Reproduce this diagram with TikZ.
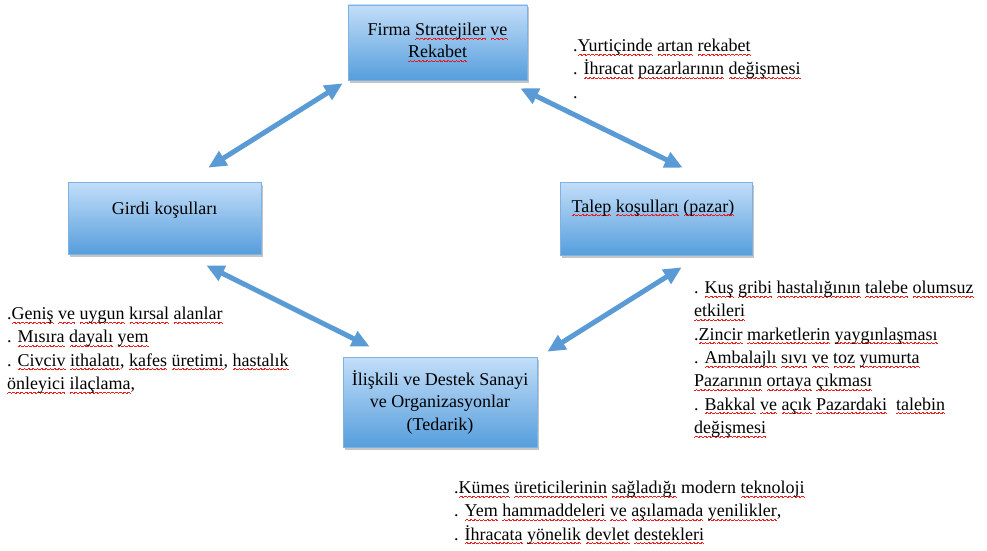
\documentclass[tikz,border=0pt]{standalone}
\usepackage{fontspec}
\setmainfont{Liberation Serif}
\usetikzlibrary{arrows.meta,shadows,calc}

\definecolor{boxtop}{RGB}{195,222,249}
\definecolor{boxbot}{RGB}{86,158,220}
\definecolor{boxline}{RGB}{125,178,226}
\definecolor{arrowblue}{RGB}{91,155,213}
\definecolor{wavered}{RGB}{232,30,30}

% red wavy spell-check underline, one word at a time, built from small rules
\newcommand\wavecell{\hbox{%
  \vrule height0.9pt depth0pt width0.67pt
  \vrule height1.4pt depth-0.5pt width0.67pt
  \vrule height1.9pt depth-1pt width0.67pt
  \vrule height1.9pt depth-1pt width0.67pt
  \vrule height1.4pt depth-0.5pt width0.67pt
  \vrule height0.9pt depth0pt width0.67pt}}
\newsavebox\sqbox
\newcommand\sq[1]{\sbox\sqbox{#1}%
  \rlap{\color{wavered}\lower4.2pt\hbox to\wd\sqbox{\xleaders\wavecell\hfil}}%
  \usebox\sqbox}

\tikzset{
  factor/.style={draw=boxline, line width=0.6pt, top color=boxtop, bottom color=boxbot,
    drop shadow={opacity=0.45, shadow xshift=2pt, shadow yshift=-2.5pt},
    inner sep=0pt, align=center, font=\fontsize{18}{22.5}\selectfont},
  factortext/.style={inner sep=0pt, font=\fontsize{18}{22.5}\selectfont},
  notes/.style={anchor=north west, inner sep=0pt, align=left, font=\fontsize{18}{23.3}\selectfont},
  link/.style={draw=arrowblue, line width=5pt,
    {Triangle[length=18pt,width=16pt]}-{Triangle[length=18pt,width=16pt]}},
}

\begin{document}
\begin{tikzpicture}[x=1pt,y=-1pt]
\fill[white] (0,0) rectangle (987,551);
\useasboundingbox (0,0) rectangle (987,551);

% the four factor boxes
\node[factor, minimum width=179pt, minimum height=75pt] (firma) at (437.5,42.5)
  {Firma \sq{Stratejiler} \sq{ve}\\\sq{Rekabet}};
\node[factor, minimum width=193pt, minimum height=72pt] (girdi) at (164.5,218) {};
\node[factortext] (girditext) at (164.5,210) {Girdi koşulları};
\node[factor, minimum width=192pt, minimum height=73pt] (talep) at (656,218.5) {};
\node[factortext] (taleptext) at (653,208) {\sq{Talep} \sq{koşulları} \sq{(pazar)}};
\node[factor, minimum width=194pt, minimum height=90pt] (tedarik) at (440,402)
  {İlişkili ve Destek Sanayi\\ve Organizasyonlar\\(Tedarik)};

% two-way links between the factors
\draw[link] ($(girdi.north east)+(-53,-14)$) -- ($(firma.south west)+(-5,3)$);
\draw[link] ($(firma.south east)+(-7,8)$) -- ($(talep.north west)+(123,-14)$);
\draw[link] ($(girdi.south east)+(-55,11)$) -- ($(tedarik.north west)+(27,-10)$);
\draw[link] ($(talep.south west)+(122,12)$) -- ($(tedarik.north east)+(10,-5)$);

% notes beside each factor
\node[notes] (rekabetnot) at (573,35)
  {\strut.\sq{Yurtiçinde} \sq{artan} \sq{rekabet}\\
   . \sq{İhracat} \sq{pazarlarının} \sq{değişmesi}\\
   .};
\node[notes] (girdinot) at (7,303)
  {\strut.\sq{Geniş} \sq{ve} \sq{uygun} \sq{kırsal} \sq{alanlar}\\
   . \sq{Mısıra} \sq{dayalı} \sq{yem}\\
   . \sq{Civciv} \sq{ithalatı}, \sq{kafes} \sq{üretimi}, \sq{hastalık}\\
   \sq{önleyici} \sq{ilaçlama},};
\node[notes] (talepnot) at (694,277)
  {\strut. \sq{Kuş} \sq{gribi} \sq{hastalığının} \sq{talebe} \sq{olumsuz}\\
   \sq{etkileri}\\
   .\sq{Zincir} \sq{marketlerin} \sq{yaygınlaşması}\\
   . \sq{Ambalajlı} \sq{sıvı} \sq{ve} \sq{toz} \sq{yumurta}\\
   \sq{Pazarının} \sq{ortaya} \sq{çıkması}\\
   . \sq{Bakkal} \sq{ve} \sq{açık} \sq{Pazardaki}\ \ \sq{talebin}\\
   \sq{değişmesi}};
\node[notes] (tedariknot) at (454,477)
  {\strut.\sq{Kümes} \sq{üreticilerinin} \sq{sağladığı} modern \sq{teknoloji}\\
   . \sq{Yem} \sq{hammaddeleri} \sq{ve} \sq{aşılamada} \sq{yenilikler},\\
   . \sq{İhracata} \sq{yönelik} \sq{devlet} \sq{destekleri}};
\end{tikzpicture}
\end{document}
